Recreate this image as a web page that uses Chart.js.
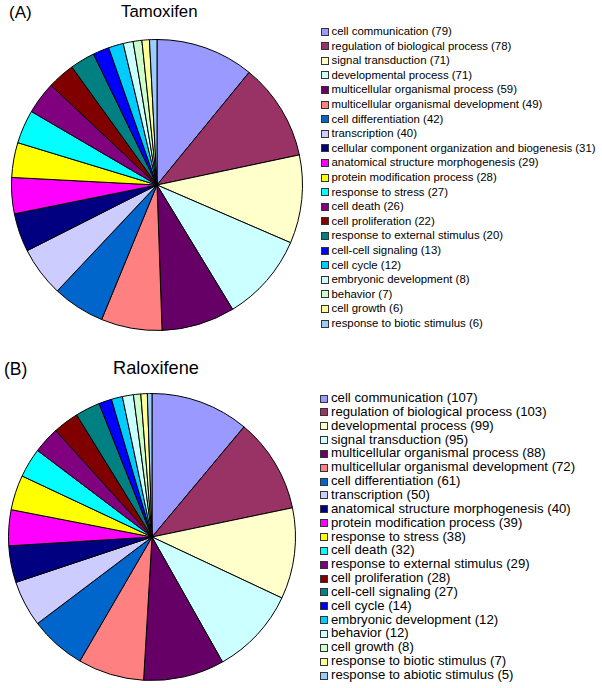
<!DOCTYPE html>
<html>
<head>
<meta charset="utf-8">
<script src="https://cdn.jsdelivr.net/npm/chart.js@4"></script>
<style>
  html, body { margin: 0; padding: 0; background: #fff; }
  body { width: 602px; height: 688px; position: relative; overflow: hidden; font-family: "Liberation Sans", Arial, sans-serif; color: #000; }
  .abs { position: absolute; }
  .lbl { white-space: nowrap; }
  .leg-box { position: absolute; width: 6px; height: 6px; border: 0.8px solid #333; }
  .leg-text { position: absolute; white-space: nowrap; }
</style>
</head>
<body>
<div class="abs lbl" style="left:9px; top:3px; font-size:17px;">(A)</div>
<div class="abs lbl" style="left:121px; top:2px; font-size:16.8px;">Tamoxifen</div>
<div class="abs lbl" style="left:4px; top:359px; font-size:17.5px;">(B)</div>
<div class="abs lbl" style="left:113px; top:358px; font-size:18.2px;">Raloxifene</div>

<div class="abs" style="left:11px; top:39px; width:292px; height:292px;"><canvas id="pieA" width="292" height="292"></canvas></div>
<div class="abs" style="left:8px; top:393px; width:288px; height:288px;"><canvas id="pieB" width="288" height="288"></canvas></div>

<div id="legA"></div>
<div id="legB"></div>

<script>
const sliceColors = [
  '#9999FF', '#993366', '#FFFFCC', '#CCFFFF', '#660066', '#FF8080', '#0066CC',
  '#CCCCFF', '#000080', '#FF00FF', '#FFFF00', '#00FFFF', '#800080', '#800000',
  '#008080', '#0000FF', '#00CCFF', '#CCFFFF', '#CCFFCC', '#FFFF99', '#99CCFF'
];

const tamoxifenCategories = [
  'cell communication', 'regulation of biological process', 'signal transduction',
  'developmental process', 'multicellular organismal process',
  'multicellular organismal development', 'cell differentiation', 'transcription',
  'cellular component organization and biogenesis', 'anatomical structure morphogenesis',
  'protein modification process', 'response to stress', 'cell death', 'cell proliferation',
  'response to external stimulus', 'cell-cell signaling', 'cell cycle',
  'embryonic development', 'behavior', 'cell growth', 'response to biotic stimulus'
];
const tamoxifenValues = [79, 78, 71, 71, 59, 49, 42, 40, 31, 29, 28, 27, 26, 22, 20, 13, 12, 8, 7, 6, 6];

const raloxifeneCategories = [
  'cell communication', 'regulation of biological process', 'developmental process',
  'signal transduction', 'multicellular organismal process',
  'multicellular organismal development', 'cell differentiation', 'transcription',
  'anatomical structure morphogenesis', 'protein modification process',
  'response to stress', 'cell death', 'response to external stimulus', 'cell proliferation',
  'cell-cell signaling', 'cell cycle', 'embryonic development', 'behavior', 'cell growth',
  'response to biotic stimulus', 'response to abiotic stimulus'
];
const raloxifeneValues = [107, 103, 99, 95, 88, 72, 61, 50, 40, 39, 38, 32, 29, 28, 27, 14, 12, 12, 8, 7, 5];

function makePie(id, labels, values) {
  new Chart(document.getElementById(id), {
    type: 'pie',
    data: {
      labels: labels,
      datasets: [{
        data: values,
        backgroundColor: sliceColors.slice(0, values.length),
        borderColor: '#000',
        borderWidth: 1
      }]
    },
    options: {
      responsive: false,
      animation: false,
      layout: { padding: 0 },
      plugins: { legend: { display: false }, tooltip: { enabled: false } }
    }
  });
}

function makeLegend(id, labels, values, opts) {
  const host = document.getElementById(id);
  labels.forEach((name, i) => {
    const cy = opts.top + i * opts.step;
    const box = document.createElement('div');
    box.className = 'leg-box';
    box.style.left = opts.boxLeft + 'px';
    box.style.top = (cy - 3.5) + 'px';
    box.style.background = sliceColors[i];
    host.appendChild(box);
    const t = document.createElement('div');
    t.className = 'leg-text';
    t.style.left = opts.textLeft + 'px';
    t.style.fontSize = opts.fontSize + 'px';
    t.style.lineHeight = '16px';
    t.style.top = (cy - 8) + 'px';
    t.textContent = name + ' (' + values[i] + ')';
    host.appendChild(t);
  });
}

makePie('pieA', tamoxifenCategories, tamoxifenValues);
makePie('pieB', raloxifeneCategories, raloxifeneValues);
makeLegend('legA', tamoxifenCategories, tamoxifenValues, { top: 31, step: 14.6, boxLeft: 321, textLeft: 331.5, fontSize: 11.4 });
makeLegend('legB', raloxifeneCategories, raloxifeneValues, { top: 398, step: 13.85, boxLeft: 320, textLeft: 331, fontSize: 13.2 });
</script>
</body>
</html>
